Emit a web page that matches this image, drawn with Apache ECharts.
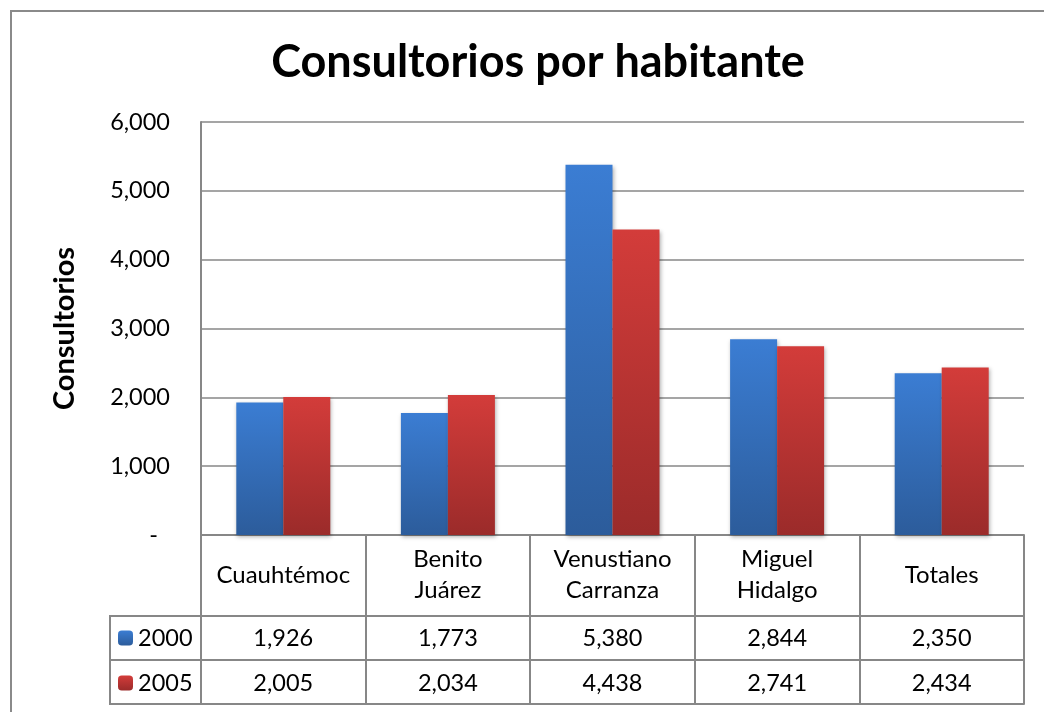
<!DOCTYPE html>
<html>
<head>
    <meta charset="utf-8">
    <title>Consultorios por habitante</title>
    <script src="https://cdn.jsdelivr.net/npm/echarts@6/dist/echarts.min.js"></script>
    <style>
        body { margin: 0; background: #fff; }
        #chart1 { width: 1044px; height: 712px; }
    </style>
</head>
<body>
<div id="chart1"></div>
<script type="text/javascript">
    // datos del gráfico
    var delegaciones = ['Cuauhtémoc', 'Benito\nJuárez', 'Venustiano\nCarranza', 'Miguel\nHidalgo', 'Totales'];
    var datos2000 = [1926, 1773, 5380, 2844, 2350];
    var datos2005 = [2005, 2034, 4438, 2741, 2434];
    var anios = ['2000', '2005'];
    var ejeY = [0, 1000, 2000, 3000, 4000, 5000, 6000];

    var fuente = 'Lato, "Open Sans", sans-serif';
    var gris = '#878787';

    function fmt(v) {
        return v.toLocaleString('en-US');
    }

    var azul = new echarts.graphic.LinearGradient(0, 0, 0, 1, [
        {offset: 0, color: '#3b7dd3'},
        {offset: 1, color: '#2c5c9b'}
    ]);
    var rojo = new echarts.graphic.LinearGradient(0, 0, 0, 1, [
        {offset: 0, color: '#d33c3a'},
        {offset: 1, color: '#9b2b2a'}
    ]);

    var myChart1 = echarts.init(document.getElementById('chart1'));

    // fila de valores de la tabla (un eje por fila)
    function filaTabla(valores, offset, margen) {
        return {
            type: 'category',
            position: 'bottom',
            offset: offset,
            data: delegaciones,
            axisLine: {show: true, lineStyle: {color: gris, width: 2}},
            axisTick: {show: false},
            axisLabel: {
                show: valores != null,
                interval: 0,
                hideOverlap: false,
                margin: margen,
                verticalAlign: 'middle',
                fontFamily: fuente,
                fontSize: 23.5,
                color: '#000',
                formatter: function (v, i) {
                    return valores ? fmt(valores[i]) : '';
                }
            }
        };
    }

    myChart1.setOption({
        animation: false,
        title: {
            text: 'Consultorios por habitante',
            left: 533,
            top: 35,
            textAlign: 'center',
            textStyle: {fontFamily: fuente, fontSize: 45, fontWeight: 'bold', color: '#000'}
        },
        legend: {
            data: anios,
            orient: 'vertical',
            left: 118,
            top: 626,
            padding: 0,
            itemWidth: 15,
            itemHeight: 15,
            itemGap: 21,
            textStyle: {fontFamily: fuente, fontSize: 23.5, lineHeight: 24, color: '#000'}
        },
        grid: {left: 201, right: 20, top: 122, bottom: 177, containLabel: false},
        xAxis: [
            {
                type: 'category',
                data: delegaciones,
                axisLine: {show: true, lineStyle: {color: gris, width: 2}},
                axisTick: {show: true, interval: 0, length: 169, lineStyle: {color: gris, width: 2}},
                axisLabel: {
                    interval: 0,
                    hideOverlap: false,
                    margin: 40,
                    verticalAlign: 'middle',
                    fontFamily: fuente,
                    fontSize: 24,
                    lineHeight: 31,
                    color: '#000'
                }
            },
            filaTabla(datos2000, 81, 22),
            filaTabla(datos2005, 125, 23),
            filaTabla(null, 169, 0)
        ],
        yAxis: {
            type: 'value',
            min: ejeY[0],
            max: ejeY[ejeY.length - 1],
            interval: 1000,
            name: 'Consultorios',
            nameLocation: 'middle',
            nameRotate: 90,
            nameGap: 122,
            nameTextStyle: {fontFamily: fuente, fontSize: 29, fontWeight: 'bold', color: '#000'},
            axisLine: {show: true, lineStyle: {color: gris, width: 2}},
            axisTick: {show: false},
            splitLine: {lineStyle: {color: gris, width: 1.5}},
            axisLabel: {
                margin: 31,
                fontFamily: fuente,
                fontSize: 23.5,
                color: '#000',
                formatter: function (v) {
                    return v === 0 ? '-  ' : fmt(v);
                }
            }
        },
        series: [
            {
                name: anios[0],
                type: 'bar',
                data: datos2000,
                barWidth: 47,
                barGap: '0%',
                itemStyle: {
                    color: azul,
                    shadowColor: 'rgba(0,0,0,0.3)',
                    shadowBlur: 4,
                    shadowOffsetX: 1,
                    shadowOffsetY: 2
                }
            },
            {
                name: anios[1],
                type: 'bar',
                data: datos2005,
                barWidth: 47,
                barGap: '0%',
                itemStyle: {
                    color: rojo,
                    shadowColor: 'rgba(0,0,0,0.3)',
                    shadowBlur: 4,
                    shadowOffsetX: 1,
                    shadowOffsetY: 2
                }
            }
        ],
        graphic: [
            // borde del área del gráfico
            {type: 'rect', shape: {x: 11, y: 11, width: 1100, height: 800},
                style: {fill: 'none', stroke: '#8a8a8a', lineWidth: 2}, silent: true},
            // columna de leyenda de la tabla
            {type: 'line', shape: {x1: 110, y1: 616, x2: 201, y2: 616}, style: {stroke: gris, lineWidth: 2}},
            {type: 'line', shape: {x1: 110, y1: 660, x2: 201, y2: 660}, style: {stroke: gris, lineWidth: 2}},
            {type: 'line', shape: {x1: 110, y1: 704, x2: 201, y2: 704}, style: {stroke: gris, lineWidth: 2}},
            {type: 'line', shape: {x1: 110, y1: 615, x2: 110, y2: 705}, style: {stroke: gris, lineWidth: 2}}
        ]
    });
</script>
</body>
</html>
